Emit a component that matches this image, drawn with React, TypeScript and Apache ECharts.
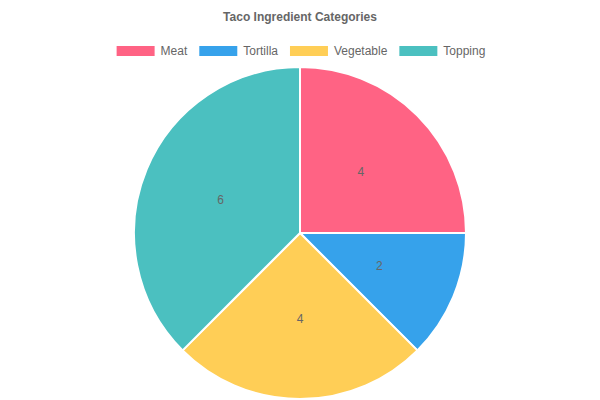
import React, { useEffect, useRef } from "react";
import * as echarts from "echarts";

const categories = ["Meat", "Tortilla", "Vegetable", "Topping"];
const values = [4, 2, 4, 6];
const colors = ["#ff6384", "#36a2eb", "#ffce56", "#4bc0c0"];
const titleText = "Taco Ingredient Categories";

export default function App() {
  const ref = useRef<HTMLDivElement>(null);
  useEffect(() => {
    document.body.style.margin = "0";
    const chart = echarts.init(ref.current!, null, { renderer: "svg" });
    chart.setOption({
      animation: false,
      color: colors,
      textStyle: { fontFamily: "Arial, Liberation Sans, Helvetica, sans-serif" },
      title: {
        text: titleText,
        left: "center",
        top: 6,
        textStyle: { fontSize: 12, fontWeight: "bold", color: "#666" },
      },
      legend: {
        top: 39,
        left: "center",
        itemWidth: 40,
        itemHeight: 12,
        itemGap: 10,
        icon: "rect",
        textStyle: { fontSize: 12, color: "#666" },
        data: categories,
      },
      series: [
        {
          type: "pie",
          center: [300, 233],
          radius: 166,
          startAngle: 90,
          clockwise: true,
          data: categories.map((c, i) => ({ name: c, value: values[i] })),
          itemStyle: { borderColor: "#fff", borderWidth: 2 },
          label: {
            show: true,
            position: "inside",
            formatter: "{c}",
            fontSize: 12,
            color: "#666",
          },
          labelLine: { show: false },
          emphasis: { disabled: true },
        },
      ],
    });
    return () => chart.dispose();
  }, []);
  return <div ref={ref} style={{ width: 600, height: 400 }} />;
}
